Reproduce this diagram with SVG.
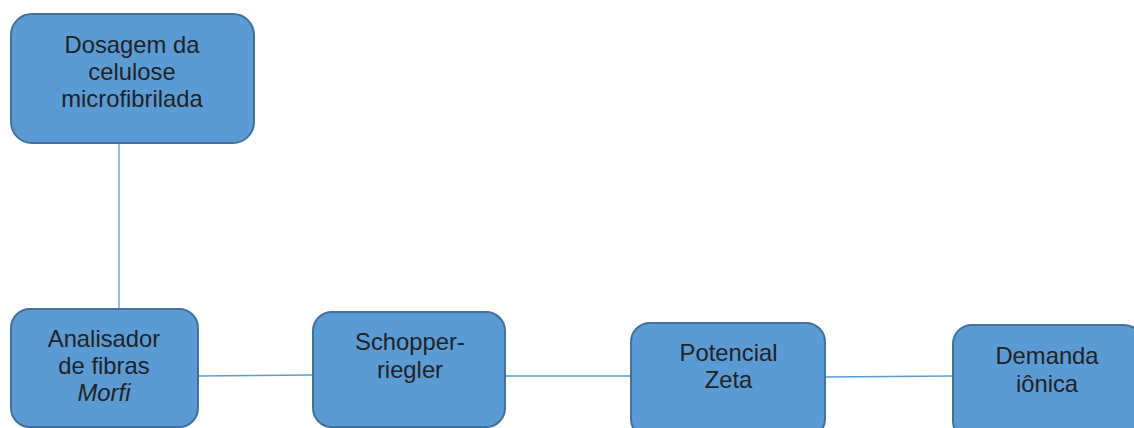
<svg xmlns="http://www.w3.org/2000/svg" width="1134" height="428" viewBox="0 0 1134 428">
<style>
.box{fill:#5b9bd5;stroke:#41719c;stroke-width:2}
.t{font-family:"Liberation Sans",Arial,sans-serif;font-size:23.8px;fill:#222222;text-anchor:middle}
.c{stroke:#5b9bd5;stroke-width:1.3;fill:none}
</style>
<rect width="1134" height="428" fill="#ffffff"/>
<g id="connectors">
<line class="c" x1="119" y1="143" x2="119" y2="309"/>
<line class="c" x1="198" y1="376" x2="313" y2="375"/>
<line class="c" x1="505" y1="376" x2="631" y2="376"/>
<line class="c" x1="825" y1="377" x2="953" y2="376"/>
</g>
<g id="dosagem">
<rect class="box" x="11" y="14" width="243" height="129" rx="21"/>
<text class="t" x="132" y="53">Dosagem da</text>
<text class="t" x="132" y="80">celulose</text>
<text class="t" x="132" y="107">microfibrilada</text>
</g>
<g id="analisador">
<rect class="box" x="11" y="309" width="187" height="118" rx="19"/>
<text class="t" x="104" y="347">Analisador</text>
<text class="t" x="104" y="374">de fibras</text>
<text class="t" x="104" y="401" font-style="italic">Morfi</text>
</g>
<g id="schopper">
<rect class="box" x="313" y="312" width="192" height="115" rx="19"/>
<text class="t" x="410" y="350">Schopper-</text>
<text class="t" x="410" y="378">riegler</text>
</g>
<g id="potencial">
<rect class="box" x="631" y="323" width="194" height="115" rx="19"/>
<text class="t" x="728.5" y="361">Potencial</text>
<text class="t" x="728.5" y="388">Zeta</text>
</g>
<g id="demanda">
<rect class="box" x="953" y="325" width="190" height="115" rx="19"/>
<text class="t" x="1047" y="364">Demanda</text>
<text class="t" x="1047" y="392">iônica</text>
</g>
</svg>
